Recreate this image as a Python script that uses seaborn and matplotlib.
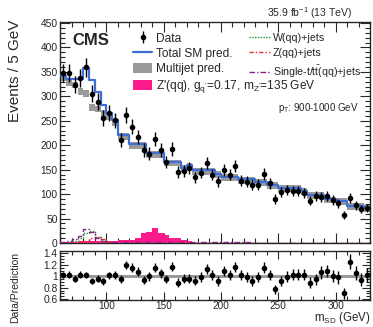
import numpy as np
import pandas as pd
import matplotlib
matplotlib.use("Agg")
import matplotlib.pyplot as plt
from matplotlib.ticker import MultipleLocator, FixedLocator
from matplotlib.lines import Line2D
from matplotlib.patches import Patch
import seaborn as sns

# ---------------- data ----------------
bin_edges = list(range(60, 335, 5))          # 60..330 GeV, 54 bins of 5 GeV
data_counts = [347, 347, 324, 338, 359, 305, 289, 256, 265, 251,
               210, 262, 238, 217, 190, 183, 213, 190, 166, 192,
               145, 147, 154, 134, 144, 164, 140, 126, 149, 140,
               158, 127, 125, 119, 119, 141, 122, 90, 105, 108,
               107, 107, 103, 86, 96, 94, 96, 88, 81, 57,
               92, 77, 69, 71]
sm_pred = [342, 336, 336, 336, 358, 333, 308, 282, 266, 251,
           221, 221, 202, 202, 202, 184, 184, 184, 166, 166,
           166, 154, 160, 149, 149, 149, 149, 142, 136, 136,
           136, 130, 130, 130, 125, 125, 119, 119, 112, 112,
           112, 112, 106, 98, 98, 98, 89, 89, 85, 85,
           76, 76, 76, 71]
w_jets = [1, 2, 4, 10, 20, 24, 12, 5, 2, 1,
          0.6, 0.5, 0.5, 0.4, 0.4, 0.4, 0.3, 0.3, 0.3, 0.3,
          0.3, 0.3, 0.2, 0.2, 0.2, 0.2, 0.2, 0.2, 0.2, 0.2,
          0.2, 0.2, 0.2, 0.2, 0.2, 0.2, 0.2, 0.2, 0.2, 0.2,
          0.2, 0.2, 0.2, 0.2, 0.2, 0.2, 0.2, 0.2, 0.2, 0.2,
          0.2, 0.2, 0.2, 0.2]
z_jets = [0.3, 0.5, 1, 2, 4, 10, 12, 8, 3, 1,
          0.4, 0.3, 0.3, 0.3, 0.2, 0.2, 0.2, 0.2, 0.2, 0.2,
          0.2, 0.2, 0.2, 0.2, 0.2, 0.2, 0.2, 0.2, 0.2, 0.2,
          0.2, 0.2, 0.2, 0.2, 0.2, 0.2, 0.2, 0.2, 0.2, 0.2,
          0.2, 0.2, 0.2, 0.2, 0.2, 0.2, 0.2, 0.2, 0.2, 0.2,
          0.2, 0.2, 0.2, 0.2]
top_jets = [3, 5, 8, 15, 28, 22, 10, 5, 3, 2.5,
            2, 2, 2, 2, 2, 2, 2, 2, 2, 2,
            2, 2, 2, 1.8, 1.8, 1.6, 1.5, 1.5, 1.4, 1.3,
            1.2, 1.2, 1.1, 1.0, 1.0, 1.0, 0.9, 0.9, 0.8, 0.8,
            0.8, 0.7, 0.7, 0.7, 0.6, 0.6, 0.6, 0.6, 0.5, 0.5,
            0.5, 0.5, 0.5, 0.5]
zprime = [3, 3, 3, 4, 4, 4, 4, 5, 5, 5,
          6, 6, 7, 10, 20, 23, 31, 20, 16, 11,
          11, 7, 5, 1, 0.5, 0.3, 0.3, 0.3, 0.2, 0.2,
          0.2, 0.2, 0.2, 0.2, 0.2, 0.2, 0.2, 0.2, 0.2, 0.2,
          0.2, 0.2, 0.2, 0.2, 0.2, 0.2, 0.2, 0.2, 0.2, 0.2,
          0.2, 0.2, 0.2, 0.2]
ratio = [1.02, 1.03, 0.96, 1.03, 1.02, 0.92, 0.96, 0.91, 1.02, 1.02,
         0.95, 1.20, 1.15, 1.08, 0.93, 1.00, 1.15, 1.05, 0.95, 1.17,
         0.89, 0.96, 0.96, 0.92, 0.99, 1.13, 1.03, 0.92, 1.09, 1.03,
         1.16, 1.02, 0.98, 0.92, 0.99, 1.15, 1.02, 0.77, 0.92, 0.99,
         1.03, 1.03, 1.03, 0.89, 0.95, 1.07, 1.09, 1.00, 0.98, 0.70,
         1.25, 1.06, 0.94, 1.02]
mj_unc = 7.0
ratio_band = 0.025

x_ticks_main = [100, 150, 200, 250, 300]
y_ticks_main = [0, 50, 100, 150, 200, 250, 300, 350, 400, 450]
y_ticks_ratio = [0.6, 0.8, 1.0, 1.2, 1.4]
y_ticklabels_ratio = ["0.6", "0.8", "1", "1.2", "1.4"]

# --------------- derived ---------------
edges = np.asarray(bin_edges, dtype=float)
centers = 0.5 * (edges[:-1] + edges[1:])
data_arr = np.asarray(data_counts, float)
sm_arr = np.asarray(sm_pred, float)
mj_arr = sm_arr - np.asarray(w_jets) - np.asarray(z_jets) - np.asarray(top_jets)
data_err = np.sqrt(data_arr)
ratio_arr = np.asarray(ratio, float)
ratio_err = ratio_arr / np.sqrt(data_arr)

hist_df = pd.DataFrame({
    "msd": centers,
    "sm": sm_arr,
    "w": np.asarray(w_jets, float),
    "z": np.asarray(z_jets, float),
    "top": np.asarray(top_jets, float),
    "zp": np.asarray(zprime, float),
})

# --------------- style ---------------
sns.set_style("ticks")
plt.rcParams["font.family"] = ["Liberation Sans", "DejaVu Sans"]
plt.rcParams["mathtext.default"] = "regular"
plt.rcParams["axes.linewidth"] = 1.0
plt.rcParams["hatch.color"] = "#5e5e5e"
plt.rcParams["hatch.linewidth"] = 0.7

BLUE = "#3f6fd6"
PINK = "#ff1a8c"
GREEN = "#1f9a2e"
RED = "#e0302a"
PURPLE = "#8a1f8a"
GRAY = "#9a9a9a"

W, H = 373, 327
fig = plt.figure(figsize=(W / 100, H / 100), dpi=100)

def fx(px):
    return px / W

def fy(py):
    return 1 - py / H

ax = fig.add_axes([fx(60.4), fy(243), fx(370) - fx(60.4), fy(21.5) - fy(243)])
axr = fig.add_axes([fx(60.4), fy(300.2), fx(370) - fx(60.4), fy(251) - fy(300.2)])

# ---- main panel ----
ax.stairs(mj_arr + mj_unc, edges, baseline=mj_arr - mj_unc, fill=True,
          facecolor=GRAY, edgecolor="none", hatch="....", zorder=2)

def hist(col, **kw):
    sns.histplot(data=hist_df, x="msd", weights=col, bins=bin_edges,
                 element="step", ax=ax, **kw)

hist("zp", fill=True, color=PINK, alpha=1.0, linewidth=0, zorder=3)
hist("w", fill=False, color=GREEN, linestyle=(0, (1, 1)), linewidth=1.0, zorder=4)
hist("z", fill=False, color=RED, linestyle=(0, (3, 1.5, 1, 1.5)), linewidth=1.0, zorder=4)
hist("top", fill=False, color=PURPLE, linestyle=(0, (4, 1.5, 1, 1.5)), linewidth=1.0, zorder=4)
hist("sm", fill=False, color=BLUE, linewidth=1.6, zorder=5)
data_cont = ax.errorbar(centers, data_arr, yerr=data_err, fmt="o", color="black",
                        ms=3, elinewidth=1.0, capsize=0, zorder=6)

ax.set_xlim(60, 330)
ax.set_ylim(0, 453)
ax.set_xlabel("")
ax.set_ylabel("")
ax.xaxis.set_major_locator(FixedLocator(x_ticks_main))
ax.xaxis.set_minor_locator(MultipleLocator(10))
ax.yaxis.set_major_locator(FixedLocator(y_ticks_main))
ax.yaxis.set_minor_locator(MultipleLocator(10))
ax.tick_params(axis="both", which="both", direction="in", top=True, right=True,
               labelsize=7.4, width=0.8)
ax.tick_params(which="major", length=7)
ax.tick_params(which="minor", length=3.5)
ax.tick_params(axis="x", labelbottom=False)
ax.tick_params(axis="y", pad=2)

# ---- ratio panel ----
axr.axhspan(1 - ratio_band, 1 + ratio_band, facecolor=GRAY, edgecolor="none",
            hatch="....", zorder=1)
axr.errorbar(centers, ratio_arr, yerr=ratio_err, fmt="o", color="black", ms=3,
             elinewidth=1.0, capsize=0, zorder=3)
axr.set_xlim(60, 330)
axr.set_ylim(0.583, 1.44)
axr.xaxis.set_major_locator(FixedLocator(x_ticks_main))
axr.xaxis.set_minor_locator(MultipleLocator(10))
axr.yaxis.set_major_locator(FixedLocator(y_ticks_ratio))
axr.set_yticklabels(y_ticklabels_ratio)
axr.yaxis.set_minor_locator(MultipleLocator(0.05))
axr.tick_params(axis="both", which="both", direction="in", top=True, right=True,
                labelsize=7.4, width=0.8)
axr.tick_params(which="major", length=6)
axr.tick_params(which="minor", length=3)
axr.tick_params(axis="x", pad=0.8, labelsize=7.2)
axr.tick_params(axis="y", pad=2)

# ---- texts ----
fig.text(fx(15), fy(20), "Events / 5 GeV", rotation=90, ha="center", va="top",
         fontsize=11)
fig.text(fx(15), fy(252), "Data/Prediction", rotation=90, ha="center", va="top",
         fontsize=7.5)
fig.text(fx(370), fy(326.4), r"m$_{SD}$ (GeV)", ha="right", va="bottom",
         fontsize=8.3)
fig.text(fx(352), fy(13), r"35.9 fb$^{-1}$ (13 TeV)", ha="right", va="center",
         fontsize=7.5)
fig.text(fx(72), fy(40.5), "CMS", ha="left", va="center", fontsize=12,
         fontweight="bold")
fig.text(fx(278), fy(108), r"p$_T$: 900-1000 GeV", ha="left", va="center",
         fontsize=7)

# ---- legends ----
h_sm = Line2D([], [], color=BLUE, lw=1.6)
h_mj = Patch(facecolor=GRAY, edgecolor="none", hatch="....")
h_zp = Patch(facecolor=PINK, edgecolor="none")
leg1 = ax.legend([data_cont, h_sm, h_mj, h_zp],
                 ["Data", "Total SM pred.", "Multijet pred.",
                  r"Z'(qq), g$_{q'}$=0.17, m$_{Z'}$=135 GeV"],
                 loc="upper left", bbox_to_anchor=(fx(133), fy(32.5)),
                 bbox_transform=fig.transFigure, frameon=False, fontsize=8.6,
                 handlelength=1.6, handletextpad=0.3, labelspacing=0.27,
                 borderpad=0, borderaxespad=0, handleheight=0.9)
ax.add_artist(leg1)
h_w = Line2D([], [], color=GREEN, lw=1.0, linestyle=(0, (1, 1)))
h_z = Line2D([], [], color=RED, lw=1.0, linestyle=(0, (3, 1.5, 1, 1.5)))
h_t = Line2D([], [], color=PURPLE, lw=1.0, linestyle=(0, (4, 1.5, 1, 1.5)))
leg2 = ax.legend([h_w, h_z, h_t],
                 ["W(qq)+jets", "Z(qq)+jets", r"Single-t/t$\bar{t}$(qq)+jets"],
                 loc="upper left", bbox_to_anchor=(fx(249), fy(33)),
                 bbox_transform=fig.transFigure, frameon=False, fontsize=7.7,
                 handlelength=2.0, handletextpad=0.25, labelspacing=0.48,
                 borderpad=0, borderaxespad=0, handleheight=0.9)

fig.savefig("out.png", dpi=100)
